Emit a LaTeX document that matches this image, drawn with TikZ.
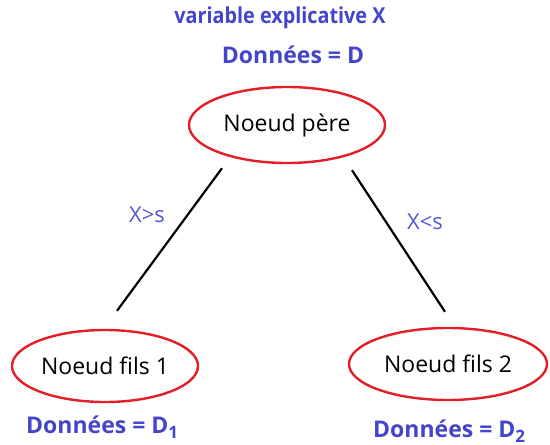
\documentclass[tikz,border=0pt]{standalone}
\usepackage{fontspec}
\setmainfont{Open Sans}
\usetikzlibrary{shapes.geometric,calc}
\definecolor{lblblue}{RGB}{68,68,204}
\definecolor{condblue}{RGB}{85,85,220}
\definecolor{ellred}{RGB}{228,30,40}
\newcommand{\mysub}[1]{\raisebox{-5pt}{\fontsize{17}{17}\selectfont #1}}
\tikzset{
  treenode/.style={ellipse, draw=ellred, line width=2.4pt, inner sep=0pt, font=\fontsize{23}{26}\selectfont},
  datalbl/.style={text=lblblue, font=\bfseries\fontsize{23}{26}\selectfont, inner sep=0pt},
  toplbl/.style={text=lblblue, font=\bfseries\fontsize{22}{25}\selectfont\addfontfeatures{FakeStretch=0.9}, inner sep=0pt},
  condlbl/.style={text=condblue, font=\fontsize{22}{25}\selectfont, inner sep=0pt},
  branch/.style={line width=2.2pt, black}
}
\begin{document}
\begin{tikzpicture}[x=1pt,y=-1pt]
\useasboundingbox (0,0) rectangle (550,445);
\node[toplbl] (var) at (280,18) {variable explicative X};
\node[datalbl] (dpere) at (293,55) {Données = D};
\node[treenode, minimum width=196pt, minimum height=76pt] (pere) at (287,125) {Noeud père};
\node[treenode, minimum width=186pt, minimum height=72pt] (fils1) at (105,366) {Noeud fils 1};
\node[treenode, minimum width=198pt, minimum height=72pt] (fils2) at (448,364) {Noeud fils 2};
\node[datalbl, anchor=base west] (d1) at (26,433) {Données = D\mysub{1}};
\node[datalbl, anchor=base west] (d2) at (373,437) {Données = D\mysub{2}};
\draw[branch] ($(pere.south)+(-65,4)$) -- ($(fils1.north)+(12,-18)$);
\draw[branch] ($(pere.south)+(65,6)$) -- ($(fils2.north)+(-3,-15)$);
\node[condlbl] (c1) at (147,215) {X>s};
\node[condlbl] (c2) at (425,222) {X<s};
\end{tikzpicture}
\end{document}
